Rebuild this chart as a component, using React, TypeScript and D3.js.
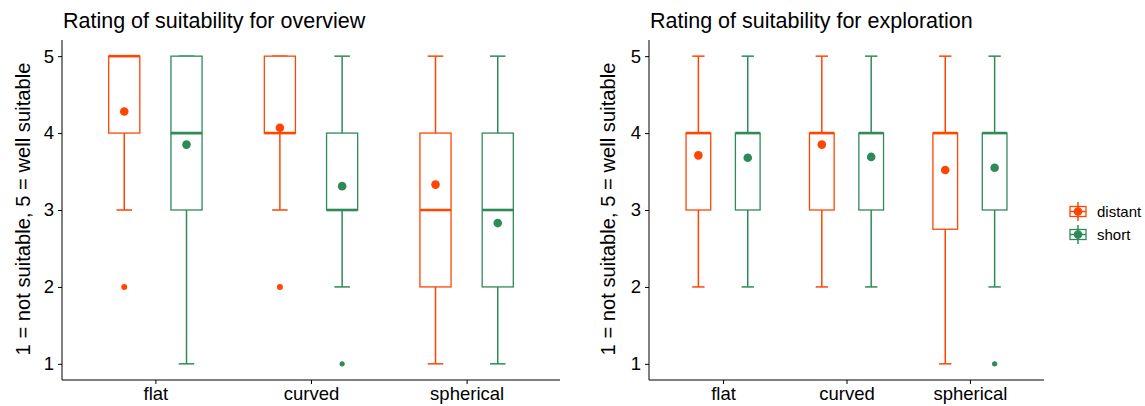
import { useEffect, useRef } from "react";
import * as d3 from "d3";

const categories = ["flat", "curved", "spherical"];
const groups = ["distant", "short"];
const colors = ["#FF4500", "#2E8B57"];
const yTicks = [1, 2, 3, 4, 5];
const yTitle = "1 = not suitable, 5 = well suitable";

// [lower whisker, q1, median, q3, upper whisker] per category
const overviewDistant = [
  [3, 4, 5, 5, 5],
  [3, 4, 4, 5, 5],
  [1, 2, 3, 4, 5],
];
const overviewShort = [
  [1, 3, 4, 5, 5],
  [2, 3, 3, 4, 5],
  [1, 2, 3, 4, 5],
];
const overviewMeans = [
  [4.28, 4.07, 3.33],
  [3.85, 3.31, 2.83],
];
const overviewOutliers = [
  [[2], [2], []],
  [[], [1], []],
];

const explorationDistant = [
  [2, 3, 4, 4, 5],
  [2, 3, 4, 4, 5],
  [1, 2.75, 4, 4, 5],
];
const explorationShort = [
  [2, 3, 4, 4, 5],
  [2, 3, 4, 4, 5],
  [2, 3, 4, 4, 5],
];
const explorationMeans = [
  [3.71, 3.85, 3.52],
  [3.68, 3.69, 3.55],
];
const explorationOutliers = [
  [[], [], []],
  [[], [], [1]],
];

const panels = [
  {
    title: "Rating of suitability for overview",
    left: 62,
    right: 560,
    stats: [overviewDistant, overviewShort],
    means: overviewMeans,
    outliers: overviewOutliers,
    yTitleX: 30,
  },
  {
    title: "Rating of suitability for exploration",
    left: 649,
    right: 1044,
    stats: [explorationDistant, explorationShort],
    means: explorationMeans,
    outliers: explorationOutliers,
    yTitleX: 615,
  },
];

const FONT = "'Liberation Sans', Arial, sans-serif";

export default function App() {
  const ref = useRef<SVGSVGElement>(null);

  useEffect(() => {
    const svg = d3.select(ref.current);
    svg.selectAll("*").remove();
    const top = 40;
    const bottom = 380;

    const y = d3.scaleLinear().domain([0.79, 5.21]).range([bottom, top]);

    panels.forEach((p) => {
      const g = svg.append("g");
      const x = d3.scaleLinear().domain([0.4, 3.6]).range([p.left, p.right]);
      const unit = x(1) - x(0);
      const boxW = unit * 0.2;

      g.append("text")
        .attr("x", p.left + 1)
        .attr("y", 28)
        .attr("font-family", FONT)
        .attr("font-size", 21.5)
        .text(p.title);

      g.append("text")
        .attr("transform", `translate(${p.yTitleX},209) rotate(-90)`)
        .attr("text-anchor", "middle")
        .attr("font-family", FONT)
        .attr("font-size", 20.2)
        .text(yTitle);

      const yAxis = g
        .append("g")
        .attr("transform", `translate(${p.left},0)`)
        .call(d3.axisLeft(y).tickValues(yTicks).tickSize(4).tickPadding(4).tickFormat(d3.format("d")));
      yAxis.select(".domain").attr("d", `M0,${top}V${bottom}`).attr("stroke", "#000");
      yAxis.selectAll("text").attr("font-family", FONT).attr("font-size", 18.5).attr("fill", "#000");

      const xAxis = g
        .append("g")
        .attr("transform", `translate(0,${bottom})`)
        .call(
          d3
            .axisBottom(x)
            .tickValues([1, 2, 3])
            .tickSize(4)
            .tickPadding(3)
            .tickFormat((d) => categories[(d as number) - 1])
        );
      xAxis.select(".domain").attr("d", `M${p.left},0H${p.right}`).attr("stroke", "#000");
      xAxis.selectAll("text").attr("font-family", FONT).attr("font-size", 18.5).attr("fill", "#000");

      groups.forEach((_, gi) => {
        const col = colors[gi];
        p.stats[gi].forEach((s, ci) => {
          const mid = x(ci + 1) + (gi === 0 ? -unit * 0.2 : unit * 0.2);
          const bx = mid - boxW / 2;
          const [lo, q1, med, q3, hi] = s;
          // whiskers
          g.append("line")
            .attr("x1", mid).attr("x2", mid)
            .attr("y1", y(lo)).attr("y2", y(hi))
            .attr("stroke", col).attr("stroke-width", 1.5);
          [lo, hi].forEach((v) => {
            g.append("line")
              .attr("x1", mid - boxW / 4).attr("x2", mid + boxW / 4)
              .attr("y1", y(v)).attr("y2", y(v))
              .attr("stroke", col).attr("stroke-width", 1.5);
          });
          g.append("rect")
            .attr("x", bx).attr("width", boxW)
            .attr("y", y(q3)).attr("height", y(q1) - y(q3))
            .attr("fill", "#fff").attr("stroke", col).attr("stroke-width", 1.3);
          g.append("line")
            .attr("x1", bx).attr("x2", bx + boxW)
            .attr("y1", y(med)).attr("y2", y(med))
            .attr("stroke", col).attr("stroke-width", 2.6);
          p.outliers[gi][ci].forEach((v) => {
            g.append("circle")
              .attr("cx", mid).attr("cy", y(v))
              .attr("r", gi === 0 ? 3 : 2.6)
              .attr("fill", col);
          });
          g.append("circle")
            .attr("cx", mid).attr("cy", y(p.means[gi][ci]))
            .attr("r", 4.3)
            .attr("fill", col);
        });
      });
    });

    // legend
    const lg = svg.append("g").attr("transform", "translate(1068,202)");
    groups.forEach((name, i) => {
      const k = lg.append("g").attr("transform", `translate(0,${i * 23})`);
      const col = colors[i];
      k.append("line").attr("x1", 10).attr("x2", 10).attr("y1", 0).attr("y2", 19).attr("stroke", col).attr("stroke-width", 1.5);
      k.append("rect").attr("x", 2).attr("y", 4.5).attr("width", 16).attr("height", 10)
        .attr("fill", "#fff").attr("stroke", col).attr("stroke-width", 1.3);
      k.append("line").attr("x1", 2).attr("x2", 18).attr("y1", 9.5).attr("y2", 9.5).attr("stroke", col).attr("stroke-width", 1.5);
      k.append("line").attr("x1", 10).attr("x2", 10).attr("y1", 4.5).attr("y2", 14.5).attr("stroke", col).attr("stroke-width", 1.5);
      k.append("circle").attr("cx", 10).attr("cy", 9.5).attr("r", 4.3).attr("fill", col);
      k.append("text").attr("x", 29).attr("y", 9.5).attr("dy", "0.35em")
        .attr("font-family", FONT).attr("font-size", 15).attr("fill", "#000").text(name);
    });
  }, []);

  return (
    <svg
      ref={ref}
      width={1145}
      height={406}
      style={{ position: "absolute", left: 0, top: 0, background: "#fff" }}
    />
  );
}
